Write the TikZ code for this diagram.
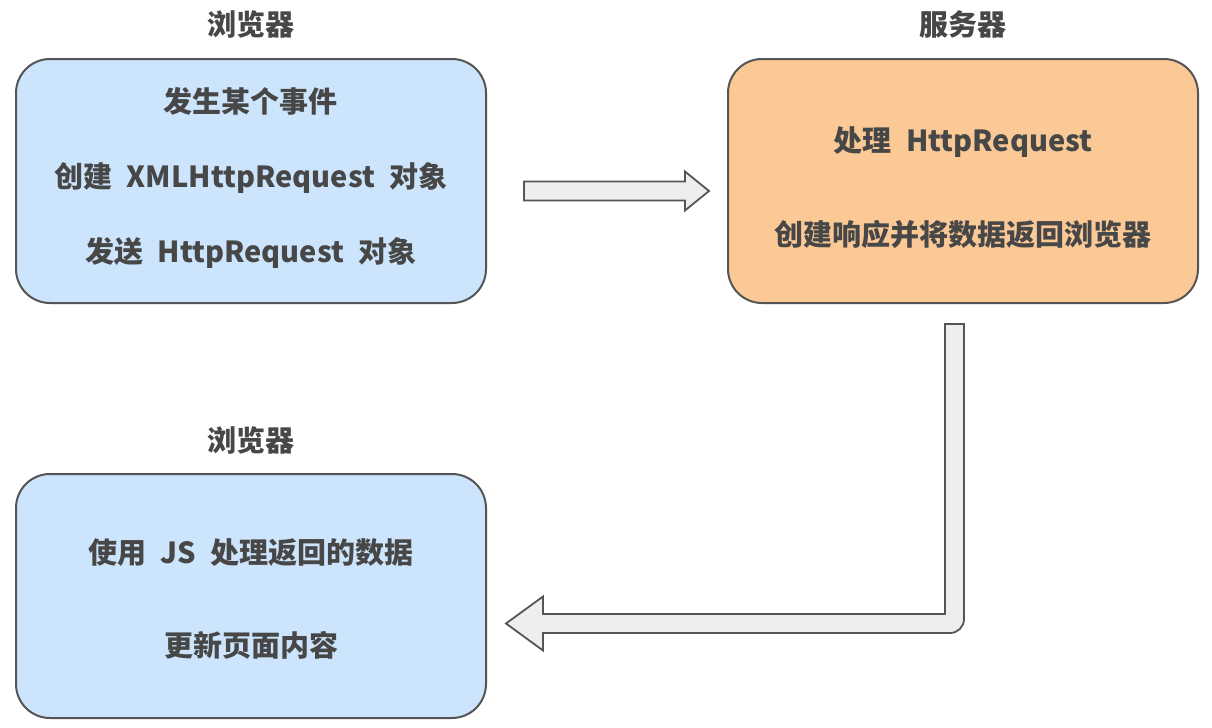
\documentclass[tikz,border=0pt]{standalone}
\usepackage{fontspec}
\setmainfont{Noto Sans CJK SC}
\usetikzlibrary{calc}
\definecolor{boxblue}{HTML}{CCE5FC}
\definecolor{boxorange}{HTML}{FBC996}
\definecolor{edge}{HTML}{555555}
\definecolor{txt}{HTML}{474747}
\definecolor{arrowfill}{HTML}{EEEEF1}
\newcommand\wgap{\hspace{0.5em}}
\tikzset{
  box/.style={draw=edge, line width=1pt, rounded corners=17pt, minimum width=235pt, minimum height=122pt, align=center, text=txt, inner sep=0pt},
  title/.style={text=txt, font=\fontsize{14.5}{16}\selectfont\bfseries},
  blockarrow/.style={draw=edge, fill=arrowfill, line width=0.9pt, line join=miter}
}
\begin{document}
\begin{tikzpicture}[x=0.5pt,y=-0.5pt]
\path[use as bounding box, fill=white] (0,0) rectangle (1212,728);

\node[title] (t1) at (251,24) {浏览器};
\node[title] (t2) at (963,24) {服务器};
\node[title] (t3) at (251,440) {浏览器};

\node[box, fill=boxblue, font=\fontsize{14.5}{37.5}\selectfont\bfseries] (b1) at (251,181)
  {发生某个事件\\创建\wgap XMLHttpRequest\wgap 对象\\发送\wgap HttpRequest\wgap 对象\rule[-6pt]{0pt}{6pt}};
\node[box, fill=boxorange, font=\fontsize{14.5}{47}\selectfont\bfseries] (b2) at (963,181)
  {\rule{0pt}{19pt}处理\wgap HttpRequest\\创建响应并将数据返回浏览器};
\node[box, fill=boxblue, font=\fontsize{14.5}{46.5}\selectfont\bfseries] (b3) at (251,596)
  {\rule{0pt}{15pt}使用\wgap JS\wgap 处理返回的数据\\更新页面内容};

% straight block arrow b1 -> b2
\coordinate (as) at ($(b1.east)+(37,10)$);
\coordinate (ae) at ($(b2.west)+(-18,10)$);
\draw[blockarrow] ($(as)+(0,-9.5)$) -- ($(ae)+(-24,-9.5)$) -- ($(ae)+(-24,-19.5)$)
  -- (ae) -- ($(ae)+(-24,19.5)$) -- ($(ae)+(-24,9.5)$) -- ($(as)+(0,9.5)$) -- cycle;

% bent block arrow b2 -> b3
\coordinate (l0) at ($(b2.south)+(-8.5,20)$);
\coordinate (tip) at ($(b3.east)+(19,27.5)$);
\draw[blockarrow] ($(l0)+(-9.5,0)$) -- ($(l0 |- tip)+(-9.5,-9.5)$) -- ($(tip)+(37,-9.5)$)
  -- ($(tip)+(37,-27)$) -- (tip) -- ($(tip)+(37,27)$) -- ($(tip)+(37,9.5)$)
  [rounded corners=7pt] -- ($(l0 |- tip)+(9.5,9.5)$) [sharp corners] -- ($(l0)+(9.5,0)$) -- cycle;
\end{tikzpicture}
\end{document}
